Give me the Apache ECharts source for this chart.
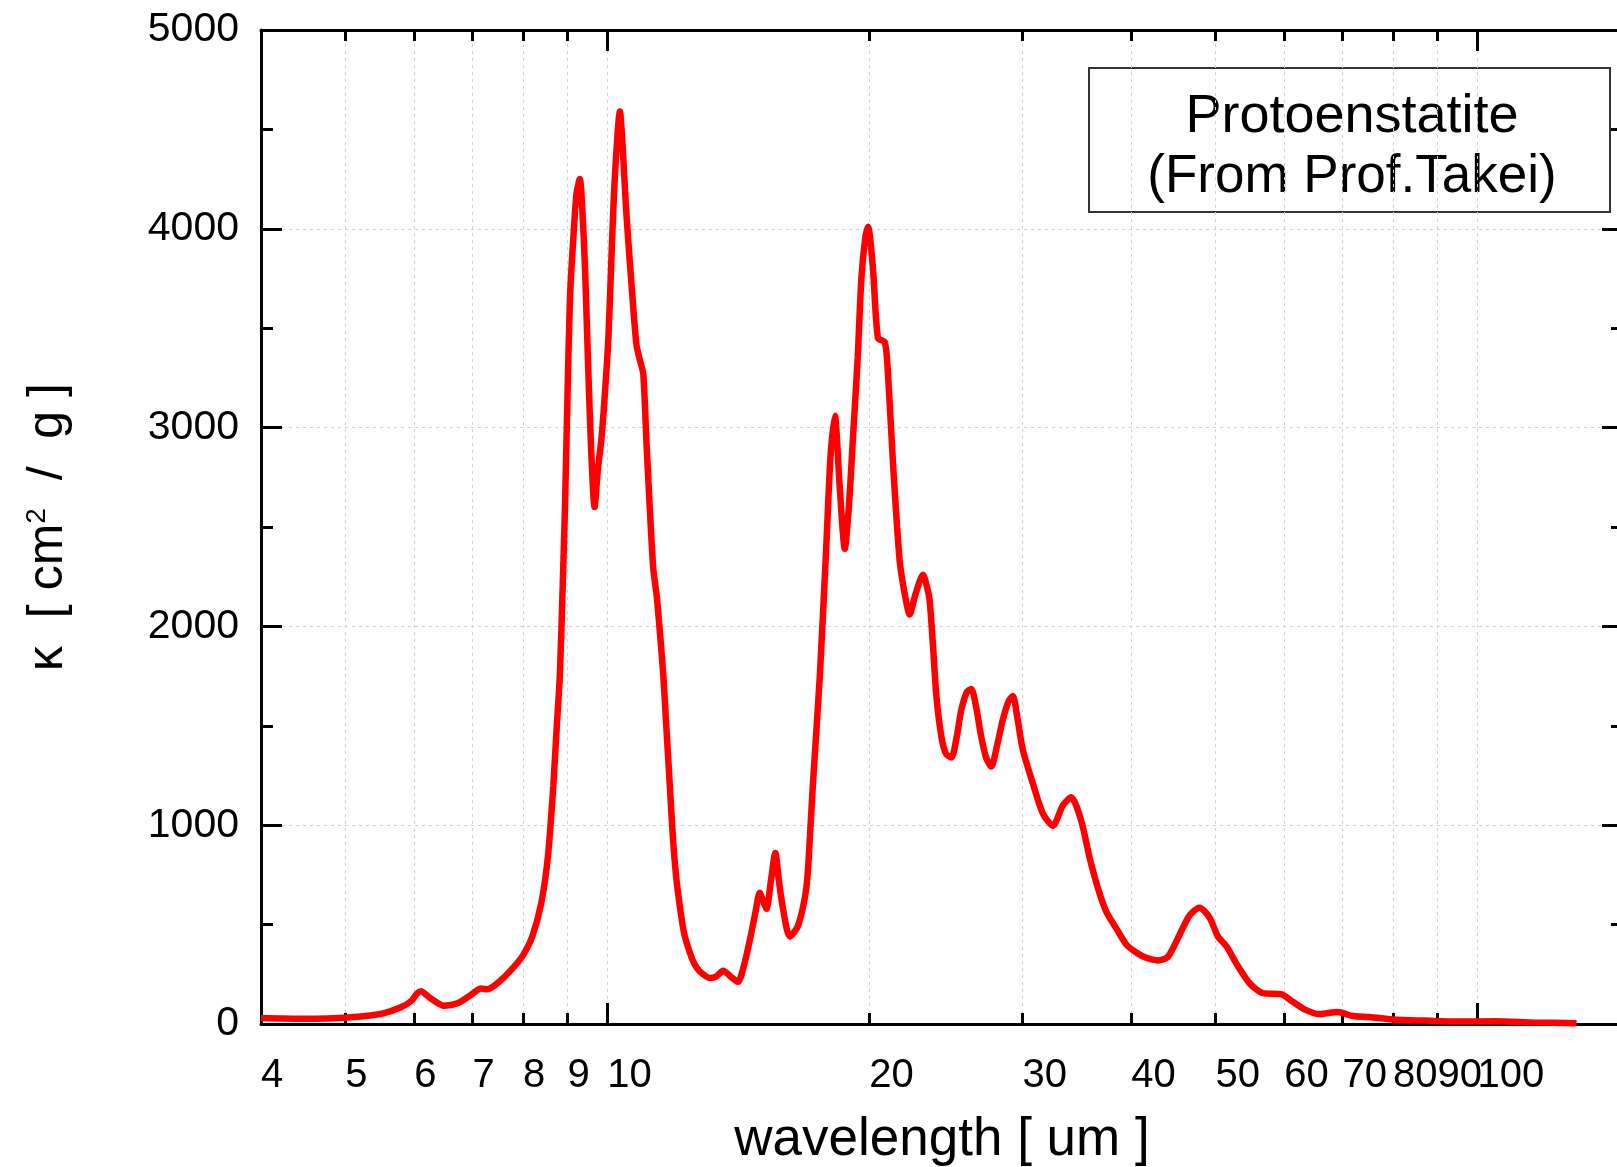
<!DOCTYPE html>
<html><head><meta charset="utf-8">
<script src="https://cdn.jsdelivr.net/npm/echarts@6/dist/echarts.min.js"></script>
<style>html,body{margin:0;padding:0;background:#fff}#c{width:1617px;height:1167px}</style>
</head><body><div id="c"></div>
<script>
// wavelength [um]
const wavelengths = [4.0,4.37,4.77,5.21,5.54,5.79,5.95,6.05,6.11,6.2,6.3,6.49,6.73,6.97,7.16,7.28,7.55,7.82,8.0,8.2,8.4,8.55,8.67,8.75,8.82,8.88,8.94,9.0,9.06,9.14,9.22,9.30,9.36,9.43,9.50,9.58,9.67,9.75,9.85,9.93,10.03,10.12,10.20,10.34,10.42,10.51,10.65,10.80,10.9,11.0,11.1,11.29,11.40,11.49,11.6,11.69,11.8,11.9,12.0,12.11,12.25,12.44,12.6,12.77,13.12,13.35,13.59,13.85,14.13,14.35,14.58,14.8,14.97,15.1,15.24,15.42,15.60,15.75,15.92,16.21,16.57,16.94,17.1,17.24,17.55,17.86,18.05,18.26,18.5,18.75,18.95,19.16,19.4,19.59,19.8,19.94,20.2,20.47,20.84,21.0,21.30,21.68,22.0,22.26,22.6,23.06,23.3,23.47,23.68,23.89,24.21,24.5,24.86,25.2,25.52,25.9,26.20,26.55,26.90,27.25,27.62,28.05,28.48,28.9,29.25,29.6,30.03,30.84,31.66,32.52,33.39,34.13,35.05,35.84,36.63,37.45,38.46,39.49,40.54,41.63,42.92,44.07,45.25,46.67,47.92,49.23,50.33,51.5,52.82,54.72,56.69,59.49,61.35,63.55,65.84,69.1,71.9,75.16,79.9,87.3,95,105,115.7,130];
// mass absorption coefficient kappa [cm^2/g]
const kappa = [30,27,28,38,55,84,115,155,165,145,122,92,104,146,178,175,221,290,345,440,610,850,1200,1500,1750,2150,2590,3150,3650,3950,4180,4250,4100,3795,3350,2900,2600,2780,2950,3150,3450,3900,4250,4590,4400,4100,3750,3420,3340,3270,2900,2300,2150,1980,1750,1500,1200,930,740,600,460,360,300,265,232,240,268,240,212,290,420,560,660,620,580,720,860,720,580,440,495,690,950,1220,1750,2420,2850,3060,2700,2390,2600,2950,3350,3750,3960,4010,3800,3450,3430,3300,2820,2330,2150,2060,2160,2260,2200,2130,1900,1650,1445,1360,1340,1440,1580,1670,1685,1590,1445,1340,1295,1400,1530,1620,1650,1540,1380,1210,1060,997,1100,1140,1022,836,684,565,481,400,360,333,320,337,430,545,585,535,440,390,305,205,155,150,112,70,50,60,40,35,23,17,12,14,8,4];

const xTickValues = [4,5,6,7,8,9,10,20,30,40,50,60,70,80,90,100];
const xMajorTickValues = [10,100];
const xRange = [4,147];
const yRange = [0,5000];
const yStep = 1000;
const xTitle = 'wavelength [ um ]';
const yTitle = 'κ  [ cm{sup|2}  /  g ]';
const legendLines = ['Protoenstatite','(From Prof.Takei)'];

const FONT = '"Liberation Sans", Arial, sans-serif';
const chart = echarts.init(document.getElementById('c'), null, {renderer:'canvas'});
const pts = wavelengths.map((w,i)=>[w,kappa[i]]);
// the axis end is appended as an unlabeled last slot so that no real label is dropped as the "max label"
const xLabelSlots = xTickValues.concat([xRange[1]]);

function xAxisDef(pos, ticks, len, withLabels, withLine, withSplit, name){
  const ax = {
    type:'log', logBase:10, min:xRange[0], max:xRange[1], position:pos,
    axisLine:{show:withLine, onZero:false, lineStyle:{color:'#000', width:3}},
    axisTick:{show:true, inside:true, length:len, customValues:ticks, lineStyle:{color:'#000', width:3}},
    axisLabel:{show:withLabels, customValues:xLabelSlots, align:'left', margin:32, fontSize:40, color:'#000', fontFamily:FONT,
      hideOverlap:false, showMinLabel:true, showMaxLabel:false,
      formatter:v=>{const r=Math.round(v); return xTickValues.indexOf(r)>=0 ? String(r) : '';}},
    splitLine:{show:withSplit, lineStyle:{color:'#d2d2d2', width:1, type:[3,4]}},
    minorTick:{show:false}, minorSplitLine:{show:false}
  };
  if (name){
    ax.name = name; ax.nameLocation='middle'; ax.nameGap=90;
    ax.nameTextStyle={fontSize:53, color:'#000', fontFamily:FONT};
  }
  return ax;
}
function yAxisDef(pos, withLabels, withLine, withSplit, name){
  const ax = {
    type:'value', min:yRange[0], max:yRange[1], interval:yStep, position:pos,
    axisLine:{show:withLine, onZero:false, lineStyle:{color:'#000', width:3}},
    axisTick:{show:true, inside:true, length:21, lineStyle:{color:'#000', width:3}},
    minorTick:{show:true, splitNumber:2, length:12, lineStyle:{color:'#000', width:3}},
    axisLabel:{show:withLabels, margin:22, fontSize:41, color:'#000', fontFamily:FONT, formatter:v=>String(v)},
    splitLine:{show:withSplit, lineStyle:{color:'#d2d2d2', width:1, type:[3,4]}}
  };
  if (name){
    ax.name = name; ax.nameLocation='middle'; ax.nameGap=188;
    ax.nameTextStyle={fontSize:50, color:'#000', fontFamily:FONT,
      rich:{sup:{fontSize:28, verticalAlign:'top', fontFamily:FONT, color:'#000'}}};
  }
  return ax;
}

chart.setOption({
  animation:false,
  backgroundColor:'#fff',
  grid:{left:261, right:-6, top:30, bottom:143, containLabel:false, outerBoundsMode:'none'},
  xAxis:[
    xAxisDef('bottom', xTickValues, 11, true, true, true, xTitle),
    xAxisDef('bottom', xMajorTickValues, 21, false, false, false),
    xAxisDef('top', xTickValues, 11, false, true, false),
    xAxisDef('top', xMajorTickValues, 21, false, false, false)
  ],
  yAxis:[
    yAxisDef('left', true, true, true, yTitle),
    yAxisDef('right', false, true, false)
  ],
  graphic:[{
    type:'group', left:1088, top:67,
    children:[
      {type:'rect', shape:{x:0,y:0,width:521,height:144}, style:{fill:'#fff', stroke:'#333', lineWidth:2}},
      {type:'text', x:263, y:49, style:{text:legendLines[0], fontSize:54, fontFamily:FONT, fill:'#000', align:'center', verticalAlign:'middle'}},
      {type:'text', x:263, y:109, style:{text:legendLines[1], fontSize:53, fontFamily:FONT, fill:'#000', align:'center', verticalAlign:'middle'}}
    ]
  }],
  series:[{
    type:'line', xAxisIndex:0, yAxisIndex:0, data:pts, showSymbol:false, smooth:0.25, clip:false,
    lineStyle:{color:'#ff0000', width:6.5}, z:5
  }]
});
</script></body></html>
